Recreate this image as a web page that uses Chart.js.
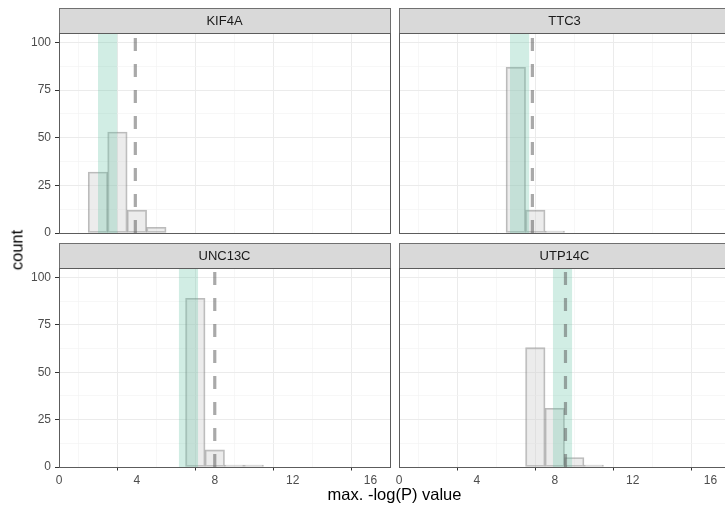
<!DOCTYPE html>
<html>
<head>
<meta charset="utf-8">
<script src="https://cdn.jsdelivr.net/npm/chart.js@4.4.1/dist/chart.umd.min.js"></script>
<style>
  html, body { margin: 0; padding: 0; background: #fff; overflow: hidden; }
  #wrap { position: relative; width: 735px; height: 508px; overflow: hidden;
          font-family: 'Liberation Sans', Arial, sans-serif; }
  #wrap canvas { position: absolute; }
  .xtitle { position: absolute; left: 59px; width: 671px; top: 485px; line-height: 19px;
            text-align: center; font-size: 16.5px; color: #000; }
  .ytitle { position: absolute; left: 17px; top: 250px; font-size: 16.5px; color: #000;
            white-space: nowrap; transform: translate(-50%, -50%) rotate(-90deg); }
</style>
</head>
<body>
<div id="wrap">
  <canvas id="p0"></canvas>
  <canvas id="p1"></canvas>
  <canvas id="p2"></canvas>
  <canvas id="p3"></canvas>
  <div class="ytitle">count</div>
  <div class="xtitle">max. -log(P) value</div>
</div>
<script>
/* ---- data ---- */
const panelNames = ['KIF4A', 'TTC3', 'UNC13C', 'UTP14C'];

const kif4aBins = [2, 3, 4, 5];
const kif4aCounts = [32, 53, 12, 3];
const ttc3Bins = [6, 7, 8];
const ttc3Counts = [87, 12, 1];
const unc13cBins = [7, 8, 9, 10];
const unc13cCounts = [89, 9, 1, 1];
const utp14cBins = [7, 8, 9, 10];
const utp14cCounts = [63, 31, 5, 1];

// shaded interval and observed value (dashed line) per panel
const bandLow = [2.0, 5.7, 6.15, 7.9];
const bandHigh = [3.0, 6.7, 7.15, 8.9];
const observed = [3.92, 6.85, 8.0, 8.55];

const xTickLabels = [0, 4, 8, 12, 16];
const yTickLabels = [0, 25, 50, 75, 100];
const xMax = 17;
const yMax = 105;

const binsList = [kif4aBins, ttc3Bins, unc13cBins, utp14cBins];
const countsList = [kif4aCounts, ttc3Counts, unc13cCounts, utp14cCounts];

Chart.defaults.font.family = "'Liberation Sans', Arial, sans-serif";
Chart.defaults.color = '#4d4d4d';

/* ---- strip + panel border ---- */
const stripPlugin = {
  id: 'strip',
  afterDraw(chart, args, opts) {
    const { ctx, chartArea: a } = chart;
    const h = 25;
    ctx.save();
    ctx.fillStyle = '#d9d9d9';
    ctx.fillRect(a.left, a.top - h, a.right - a.left, h);
    ctx.strokeStyle = '#707070';
    ctx.lineWidth = 1;
    ctx.strokeRect(Math.round(a.left) + 0.5, Math.round(a.top - h) + 0.5,
                   Math.round(a.right - a.left), h);
    ctx.strokeStyle = '#5c5c5c';
    ctx.strokeRect(Math.round(a.left) + 0.5, Math.round(a.top) + 0.5,
                   Math.round(a.right - a.left), Math.round(a.bottom - a.top));
    ctx.fillStyle = '#1a1a1a';
    ctx.font = "13px 'Liberation Sans', Arial, sans-serif";
    ctx.textAlign = 'center';
    ctx.textBaseline = 'middle';
    ctx.fillText(opts.label, (a.left + a.right) / 2, a.top - h / 2 + 0.5);
    ctx.restore();
  }
};

const isMajorX = v => xTickLabels.includes(v);
const isMajorY = v => yTickLabels.includes(v);

function makePanel(i, pos) {
  const cv = document.getElementById('p' + i);
  cv.width = pos.w;
  cv.height = pos.h;
  cv.style.left = pos.left + 'px';
  cv.style.top = pos.top + 'px';

  const bins = binsList[i];
  const counts = countsList[i];

  return new Chart(cv, {
    type: 'bar',
    data: {
      datasets: [
        {
          type: 'bar',
          order: 3,
          data: bins.map((b, k) => ({ x: b, y: counts[k] })),
          backgroundColor: 'rgba(210,210,210,0.42)',
          borderColor: 'rgba(120,120,120,0.5)',
          borderWidth: 1.2,
          borderSkipped: false,
          barPercentage: 1,
          categoryPercentage: 1
        },
        {
          type: 'line',
          order: 2,
          data: [{ x: bandLow[i], y: yMax }, { x: bandHigh[i], y: yMax }],
          fill: 'origin',
          backgroundColor: 'rgba(102,194,165,0.3)',
          borderColor: 'rgba(0,0,0,0)',
          borderWidth: 0,
          pointRadius: 0
        },
        {
          type: 'line',
          order: 1,
          data: [{ x: observed[i], y: 0 }, { x: observed[i], y: yMax }],
          borderColor: 'rgba(90,90,90,0.52)',
          borderWidth: 3.2,
          borderDash: [13, 13],
          fill: false,
          pointRadius: 0
        }
      ]
    },
    options: {
      responsive: false,
      animation: false,
      events: [],
      layout: { padding: pos.pad },
      plugins: {
        legend: { display: false },
        tooltip: { enabled: false },
        strip: { label: panelNames[i] }
      },
      scales: {
        x: {
          type: 'linear', min: 0, max: xMax, offset: false,
          border: { display: false },
          ticks: {
            stepSize: 2, display: pos.showX, autoSkip: false, includeBounds: false,
            maxRotation: 0, padding: 3, font: { size: 12 },
            callback: v => isMajorX(v) ? String(v) : ''
          },
          grid: {
            color: c => (c.tick && isMajorX(c.tick.value)) ? '#ebebeb' : '#f3f3f3',
            lineWidth: c => (c.tick && isMajorX(c.tick.value)) ? 1 : 0.7,
            drawTicks: pos.showX, tickLength: 3.5, tickWidth: 1,
            tickColor: c => (c.tick && isMajorX(c.tick.value)) ? '#333' : 'rgba(0,0,0,0)'
          },
          afterFit: s => { s.height = pos.showX ? 20 : 0; s.paddingLeft = 0; s.paddingRight = 0; }
        },
        y: {
          min: 0, max: yMax,
          border: { display: false },
          ticks: {
            stepSize: 12.5, display: pos.showY, autoSkip: false, includeBounds: false,
            padding: 4, font: { size: 12 },
            callback: v => isMajorY(v) ? String(v) : ''
          },
          grid: {
            color: c => (c.tick && isMajorY(c.tick.value)) ? '#ebebeb' : '#f3f3f3',
            lineWidth: c => (c.tick && isMajorY(c.tick.value)) ? 1 : 0.7,
            drawTicks: pos.showY, tickLength: 4, tickWidth: 1,
            tickColor: c => (c.tick && isMajorY(c.tick.value)) ? '#333' : 'rgba(0,0,0,0)'
          },
          afterFit: s => { s.width = pos.showY ? 59 : 4; s.paddingTop = 0; s.paddingBottom = 0; }
        }
      }
    },
    plugins: [stripPlugin]
  });
}

// top row: plot area 33..233, bottom row: 268..467
makePanel(0, { left: 0,   top: 0,   w: 395, h: 245, showX: false, showY: true,
               pad: { top: 33, right: 5, bottom: 12, left: 0 } });
makePanel(1, { left: 395, top: 0,   w: 340, h: 245, showX: false, showY: false,
               pad: { top: 33, right: 5, bottom: 12, left: 0 } });
makePanel(2, { left: 0,   top: 235, w: 395, h: 273, showX: true,  showY: true,
               pad: { top: 33, right: 5, bottom: 21, left: 0 } });
makePanel(3, { left: 395, top: 235, w: 340, h: 273, showX: true,  showY: false,
               pad: { top: 33, right: 5, bottom: 21, left: 0 } });
</script>
</body>
</html>
